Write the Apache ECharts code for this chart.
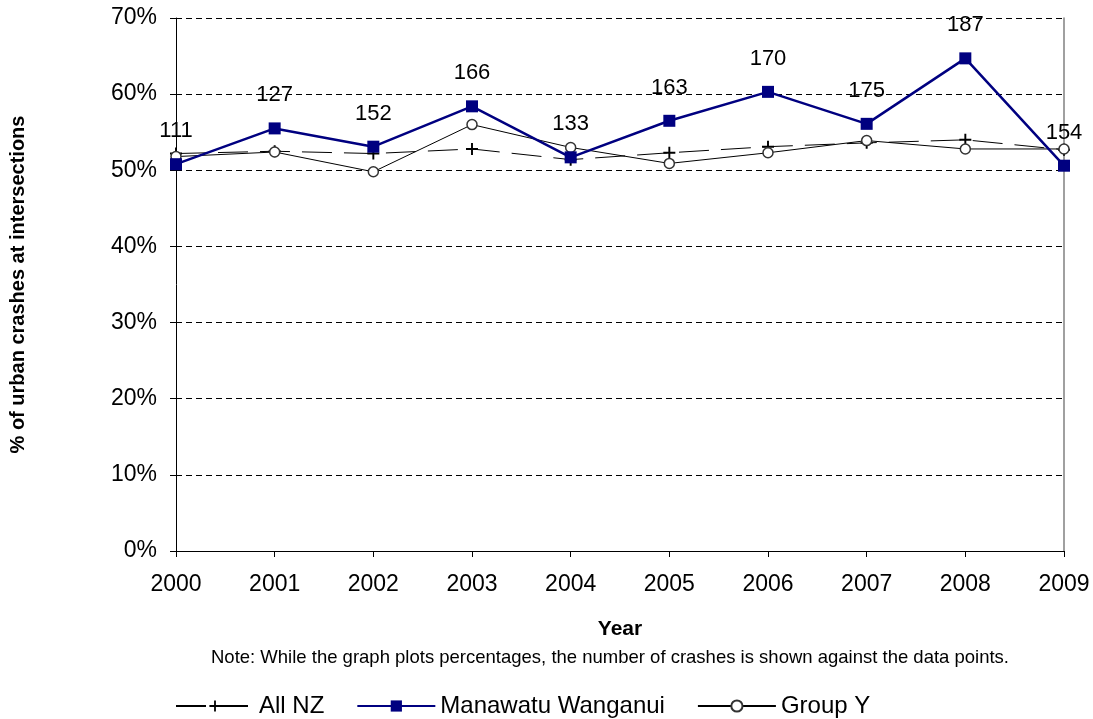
<!DOCTYPE html>
<html>
<head>
<meta charset="utf-8">
<script src="https://cdn.jsdelivr.net/npm/echarts@6/dist/echarts.min.js"></script>
<style>html,body{margin:0;padding:0;background:#fff;}#c{width:1093px;height:719px;}</style>
</head>
<body>
<div id="c"></div>
<script>
var years = ['2000','2001','2002','2003','2004','2005','2006','2007','2008','2009'];
var allNZ = [52.2, 52.5, 52.2, 52.8, 51.4, 52.3, 53.1, 53.6, 54.0, 52.7];
var manawatu = [50.8, 55.5, 53.1, 58.4, 51.7, 56.5, 60.3, 56.1, 64.7, 50.6];
var groupY = [51.8, 52.4, 49.8, 56.0, 53.0, 50.9, 52.3, 53.9, 52.8, 52.8];
var crashCounts = [111, 127, 152, 166, 133, 163, 170, 175, 187, 154];
var yTicks = [0, 10, 20, 30, 40, 50, 60, 70];

var font = 'Liberation Sans, Arial, sans-serif';
var chart = echarts.init(document.getElementById('c'));
var plus = 'path://M4.2,0h1.6v4.2h4.2v1.6h-4.2v4.2h-1.6v-4.2h-4.2v-1.6h4.2z';

chart.setOption({
  animation: false,
  backgroundColor: '#fff',
  textStyle: { fontFamily: font },
  grid: { left: 176, right: 29, top: 18, bottom: 168, show: false },
  legend: {
    left: 170, top: 689,
    itemWidth: 78, itemHeight: 14, itemGap: 32,
    textStyle: { fontSize: 24, color: '#000', fontFamily: font },
    data: ['All NZ', 'Manawatu Wanganui', 'Group Y']
  },
  graphic: [{
    type: 'text', x: 610, y: 658,
    style: { text: 'Note: While the graph plots percentages, the number of crashes is shown against the data points.',
      fontSize: 18.5, fill: '#000', fontFamily: font, align: 'center', verticalAlign: 'middle' }
  }],
  xAxis: [{
    type: 'category', data: years, boundaryGap: false,
    name: 'Year', nameLocation: 'middle', nameGap: 68,
    nameTextStyle: { fontSize: 21, fontWeight: 'bold', color: '#000', fontFamily: font },
    axisLine: { lineStyle: { color: '#000', width: 1 } },
    axisTick: { show: true, inside: false, length: 6, alignWithLabel: true, lineStyle: { color: '#000' } },
    axisLabel: { fontSize: 23, color: '#000', margin: 22, fontFamily: font },
    splitLine: { show: false }
  }, {
    type: 'category', data: years, boundaryGap: false, position: 'top',
    axisLine: { lineStyle: { color: '#000', width: 1 } },
    axisTick: { show: false }, axisLabel: { show: false }, splitLine: { show: false }
  }],
  yAxis: [{
    type: 'value', min: 0, max: 70, interval: 10,
    name: '% of urban crashes at intersections', nameLocation: 'middle', nameGap: 148,
    nameTextStyle: { fontSize: 20, fontWeight: 'bold', color: '#000', fontFamily: font },
    axisLine: { show: true, lineStyle: { color: '#000', width: 1 } },
    axisTick: { show: true, length: 6, lineStyle: { color: '#000' } },
    axisLabel: { fontSize: 23, color: '#000', margin: 19, fontFamily: font,
      formatter: function (v) { return yTicks.indexOf(v) >= 0 ? v + '%' : ''; } },
    splitLine: { show: true, lineStyle: { color: '#000', type: [6, 4], width: 1 } }
  }, {
    type: 'value', min: 0, max: 70, interval: 10, position: 'right',
    axisLine: { show: true, lineStyle: { color: '#808080', width: 1.5 } },
    axisTick: { show: false }, axisLabel: { show: false }, splitLine: { show: false }
  }],
  series: [{
    name: 'All NZ', type: 'line', data: allNZ,
    symbol: plus, symbolSize: 12,
    itemStyle: { color: '#000' },
    lineStyle: { color: '#000', width: 1, type: [30, 12] },
    z: 2
  }, {
    name: 'Group Y', type: 'line', data: groupY,
    symbol: 'circle', symbolSize: 10,
    itemStyle: { color: '#fff', borderColor: '#333', borderWidth: 1.5 },
    lineStyle: { color: '#000', width: 1 },
    z: 3
  }, {
    name: 'Manawatu Wanganui', type: 'line', data: manawatu,
    symbol: 'rect', symbolSize: 12,
    itemStyle: { color: '#000080' },
    lineStyle: { color: '#000080', width: 2.5 },
    label: {
      show: true, position: 'top', distance: 16, fontSize: 22, color: '#000', fontFamily: font,
      formatter: function (p) { return crashCounts[p.dataIndex]; }
    },
    z: 4
  }]
});
</script>
</body>
</html>
